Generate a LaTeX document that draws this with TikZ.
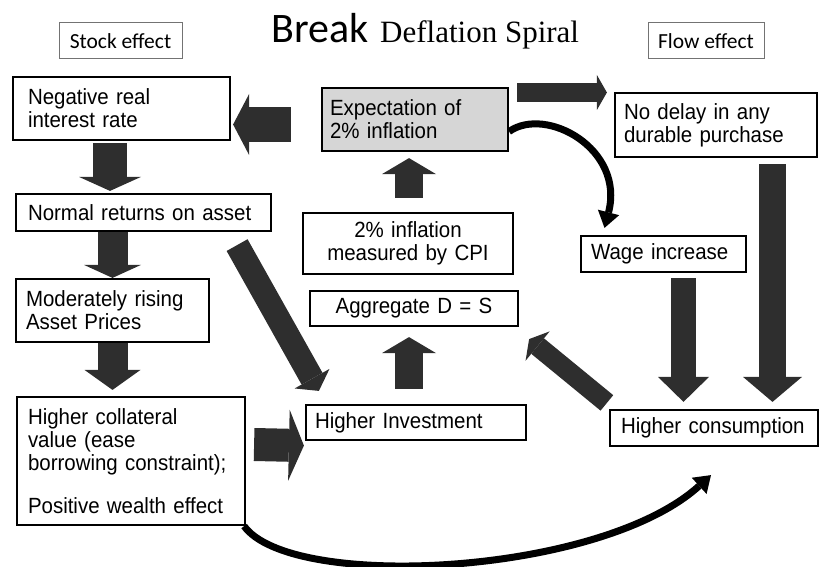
\documentclass[tikz,border=0pt]{standalone}
\usepackage{fontspec}
\setmainfont{Liberation Sans}[FakeStretch=0.93]
\newfontfamily\calibrifont{Carlito}
\newfontfamily\spiralfont{Liberation Serif}
\usetikzlibrary{arrows.meta,positioning}
\tikzstyle{box}=[draw,line width=2.2pt,align=left,inner xsep=10pt,inner ysep=0pt,font=\fontsize{22}{23}\selectfont]
\tikzstyle{tagbox}=[draw=black!55,line width=1pt,inner sep=0pt,font=\calibrifont\fontsize{21.5}{24}\selectfont]
\tikzset{fat/.style n args={3}{draw=black!82,line width=#1,-{Triangle[width=#2,length=#3,line width=0pt]}}}
\tikzset{swoosh/.style={draw=black,line width=7pt,-{Triangle[width=22pt,length=16pt,line width=0pt]}}}

\begin{document}
\begin{tikzpicture}[x=1pt,y=-1pt]
\useasboundingbox (0,0) rectangle (822,567);
% headings
\node (stock) at (120.5,41) [tagbox,minimum width=123pt,minimum height=36pt] {Stock effect};
\node (flow) at (706,41) [tagbox,minimum width=116pt,minimum height=36pt] {Flow effect};
\node (title) at (271,43) [anchor=base west,inner sep=0pt] {{\calibrifont\fontsize{42}{42}\selectfont Break}\hspace{12pt}{\spiralfont\fontsize{31}{31}\selectfont Deflation Spiral}};
% boxes
\node (negrate) at (121.5,108.5) [box,text width=187pt,inner xsep=15pt,minimum height=63pt] {Negative real\\interest rate};
\node (expect) at (415,119.5) [box,fill=black!16,text width=170pt,inner xsep=8pt,minimum height=63pt] {Expectation of\\2\% inflation};
\node (nodelay) at (716,125) [box,text width=184pt,inner xsep=9pt,minimum height=64pt] {No delay in any\\durable purchase};
\node (cpi) at (408,243.5) [box,align=center,text width=190pt,minimum height=61pt] {2\% inflation\\measured by CPI};
\node (aggds) at (414,308.5) [box,align=center,text width=188pt,minimum height=35pt] {Aggregate D = S};
\node (wage) at (663.5,254) [box,text width=145pt,minimum height=36pt] {Wage increase};
\node (normal) at (143.5,212.5) [box,text width=231pt,inner xsep=12pt,minimum height=37pt] {Normal returns on asset};
\node (moderate) at (112.5,310.5) [box,text width=173pt,minimum height=63pt] {Moderately rising\\Asset Prices};
\node (collateral) at (131,461) [box,text width=206pt,inner xsep=11pt,minimum height=128pt] {Higher collateral\\value (ease\\borrowing constraint);\\[20pt]Positive wealth effect};
\node (invest) at (416,422.5) [box,text width=202pt,inner xsep=9pt,minimum height=35pt] {Higher Investment};
\node (consum) at (714,428) [box,text width=186pt,inner xsep=11pt,minimum height=36pt] {Higher consumption};
% block arrows
\draw[fat={35pt}{61pt}{16pt}] ([xshift=-30pt,yshift=-5pt]expect.west) -- ([xshift=2pt,yshift=-16pt]negrate.east);
\draw[fat={19pt}{35pt}{10pt}] ([xshift=8pt,yshift=27pt]expect.east) -- ([xshift=-7pt,yshift=32.5pt]nodelay.west);
\draw[fat={34pt}{62pt}{14pt}] ([xshift=-11.5pt,yshift=-2pt]negrate.south) -- ([xshift=-33.5pt,yshift=2pt]normal.north);
\draw[fat={30pt}{57pt}{13pt}] ([xshift=-31pt]normal.south) -- (moderate.north);
\draw[fat={30pt}{56pt}{20pt}] (moderate.south) -- ([xshift=-18.5pt,yshift=6pt]collateral.north);
\draw[fat={24pt}{40pt}{14pt}] ([xshift=-35pt,yshift=-13pt]normal.south east) -- ([xshift=14pt,yshift=13pt]invest.north west);
\draw[fat={33pt}{71pt}{15pt}] ([xshift=8pt,yshift=16.5pt]collateral.east) -- ([xshift=-1pt,yshift=-4.5pt]invest.south west);
\draw[fat={28pt}{54pt}{16pt}] ([xshift=-7pt,yshift=15pt]invest.north) -- ([xshift=-5pt,yshift=-10pt]aggds.south);
\draw[fat={28pt}{54pt}{16pt}] ([xshift=1pt,yshift=14pt]cpi.north) -- ([xshift=-6pt,yshift=-6pt]expect.south);
\draw[fat={20pt}{38pt}{11pt}] ([xshift=-2pt,yshift=6pt]consum.north west) -- ([xshift=10pt,yshift=-12pt]aggds.south east);
\draw[fat={25pt}{51pt}{25pt}] ([xshift=20pt,yshift=-5pt]wage.south) -- ([xshift=-30.5pt,yshift=7pt]consum.north);
\draw[fat={27pt}{59pt}{25pt}] ([xshift=56.5pt,yshift=-6pt]nodelay.south) -- ([xshift=58.5pt,yshift=7pt]consum.north);
% curved arrows
\draw[swoosh] ([yshift=-12pt]expect.east) .. controls +(37,-26) and +(20.5,-79) .. ([xshift=-59pt,yshift=7pt]wage.north);
\draw[swoosh] ([xshift=-2pt]collateral.south east) .. controls +(47,65) and +(-111,101) .. ([xshift=-3pt,yshift=-28pt]consum.south);
\end{tikzpicture}
\end{document}
